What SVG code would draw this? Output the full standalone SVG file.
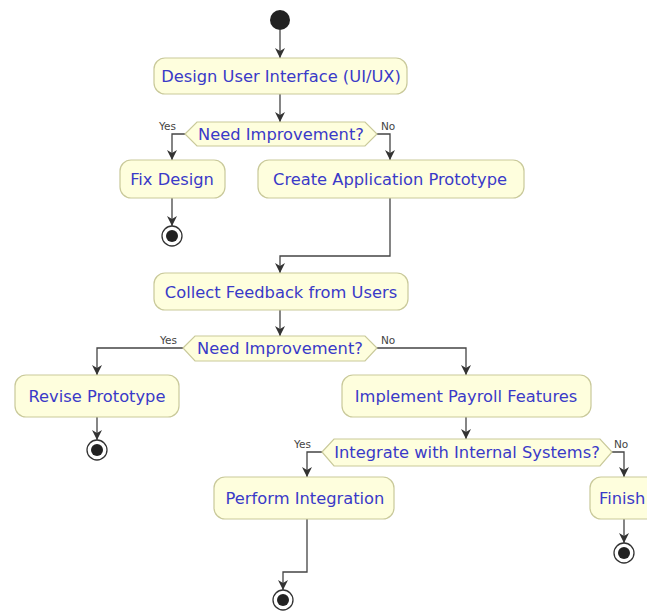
<svg xmlns="http://www.w3.org/2000/svg" width="647" height="613" viewBox="0 0 647 613">
<defs>
<style>
.box{fill:#FEFEDD;stroke:#C9C99A;stroke-width:1.2}
.dia{fill:#FEFEDD;stroke:#C9C99A;stroke-width:1.2}
.t{font-family:"DejaVu Sans",sans-serif;font-size:16.3px;fill:#3A3AC8;text-anchor:middle}
.lbl{font-family:"DejaVu Sans",sans-serif;font-size:10.5px;fill:#444}
.ln{fill:none;stroke:#444;stroke-width:1.3}
.start{fill:#222}
.endo{fill:none;stroke:#333;stroke-width:1.3}
.endi{fill:#222}
</style>
<marker id="ah" viewBox="0 0 10 10" refX="10" refY="5" markerWidth="10" markerHeight="10" markerUnits="userSpaceOnUse" orient="auto">
<path d="M0,0 L10,5 L0,10 L3,5 Z" fill="#333"/>
</marker>
</defs>
<rect width="647" height="613" fill="#fff"/>
<g id="connectors">
<path class="ln" d="M280,30 V58" marker-end="url(#ah)"/>
<path class="ln" d="M280,94 V122" marker-end="url(#ah)"/>
<path class="ln" d="M185,134 H172 V160" marker-end="url(#ah)"/>
<path class="ln" d="M377,134 H390 V160" marker-end="url(#ah)"/>
<path class="ln" d="M172,198 V226" marker-end="url(#ah)"/>
<path class="ln" d="M390,198 V256 H280 V273" marker-end="url(#ah)"/>
<path class="ln" d="M280,310 V336" marker-end="url(#ah)"/>
<path class="ln" d="M183,348 H97 V375" marker-end="url(#ah)"/>
<path class="ln" d="M377,348 H466 V375" marker-end="url(#ah)"/>
<path class="ln" d="M97,417 V440" marker-end="url(#ah)"/>
<path class="ln" d="M466,417 V439" marker-end="url(#ah)"/>
<path class="ln" d="M322,452 H307 V477" marker-end="url(#ah)"/>
<path class="ln" d="M612,452 H624 V477" marker-end="url(#ah)"/>
<path class="ln" d="M307,519 V572 H283 V590" marker-end="url(#ah)"/>
<path class="ln" d="M624,519 V543" marker-end="url(#ah)"/>
<text class="lbl" x="159" y="130">Yes</text>
<text class="lbl" x="381" y="130">No</text>
<text class="lbl" x="160" y="344">Yes</text>
<text class="lbl" x="381" y="344">No</text>
<text class="lbl" x="294" y="448">Yes</text>
<text class="lbl" x="614" y="448">No</text>
</g>
<g id="start"><circle class="start" cx="280" cy="20" r="10"/></g>
<g id="design"><rect class="box" x="154" y="58" width="253" height="36" rx="11"/><text class="t" x="281" y="82">Design User Interface (UI/UX)</text></g>
<g id="decision1"><polygon class="dia" points="185,134 197,122 365,122 377,134 365,146 197,146"/><text class="t" x="281" y="140">Need Improvement?</text></g>
<g id="fixdesign"><rect class="box" x="120" y="160" width="105" height="38" rx="11"/><text class="t" x="172" y="185">Fix Design</text></g>
<g id="end1"><circle class="endo" cx="172" cy="236" r="10"/><circle class="endi" cx="172" cy="236" r="6"/></g>
<g id="prototype"><rect class="box" x="258" y="160" width="266" height="38" rx="11"/><text class="t" x="390" y="185">Create Application Prototype</text></g>
<g id="collect"><rect class="box" x="154" y="273" width="254" height="37" rx="11"/><text class="t" x="281" y="298">Collect Feedback from Users</text></g>
<g id="decision2"><polygon class="dia" points="183,348 195,336 365,336 377,348 365,361 195,361"/><text class="t" x="280" y="354">Need Improvement?</text></g>
<g id="revise"><rect class="box" x="15" y="375" width="164" height="42" rx="11"/><text class="t" x="97" y="402">Revise Prototype</text></g>
<g id="end2"><circle class="endo" cx="97" cy="450" r="10"/><circle class="endi" cx="97" cy="450" r="6"/></g>
<g id="implement"><rect class="box" x="342" y="375" width="249" height="42" rx="11"/><text class="t" x="466" y="402">Implement Payroll Features</text></g>
<g id="decision3"><polygon class="dia" points="322,452 334,439 600,439 612,452 600,466 334,466"/><text class="t" x="467" y="458">Integrate with Internal Systems?</text></g>
<g id="perform"><rect class="box" x="214" y="477" width="180" height="42" rx="11"/><text class="t" x="305" y="504">Perform Integration</text></g>
<g id="end3"><circle class="endo" cx="283" cy="600" r="10"/><circle class="endi" cx="283" cy="600" r="6"/></g>
<g id="finish"><rect class="box" x="590" y="477" width="100" height="42" rx="11"/><text class="t" x="599" y="504" style="text-anchor:start">Finish</text></g>
<g id="end4"><circle class="endo" cx="624" cy="553" r="10"/><circle class="endi" cx="624" cy="553" r="6"/></g>
</svg>
